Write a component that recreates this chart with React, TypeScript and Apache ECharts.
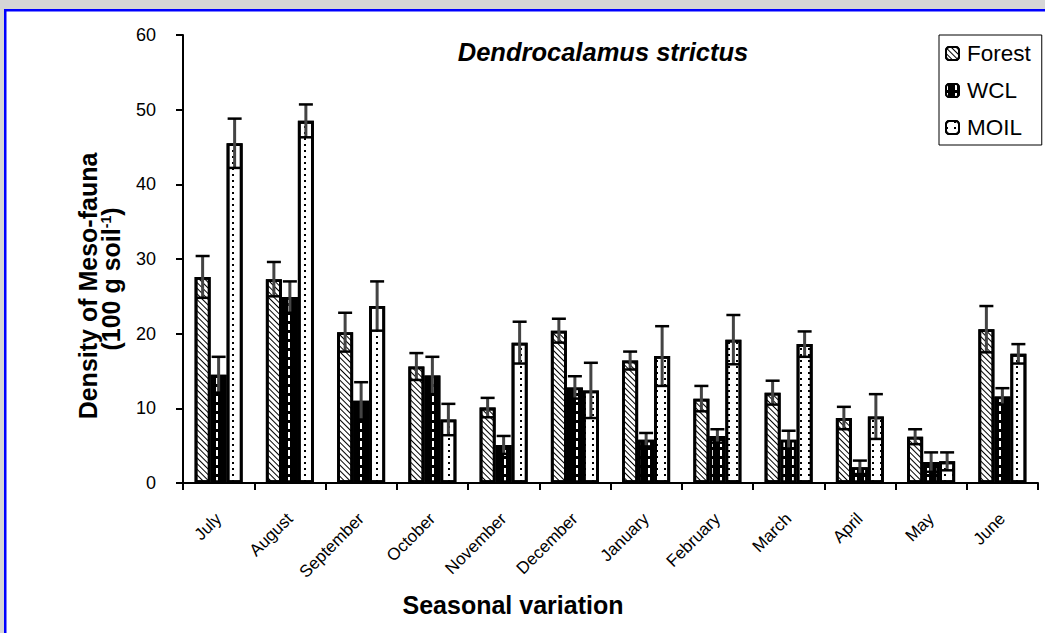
import React, { useEffect, useRef } from "react";
import * as echarts from "echarts";

const categories = ["July", "August", "September", "October", "November", "December", "January", "February", "March", "April", "May", "June"];
const seriesNames = ["Forest", "WCL", "MOIL"];
const forest = [27.6, 27.3, 20.2, 15.6, 10.1, 20.4, 16.4, 11.3, 12.1, 8.7, 6.2, 20.6];
const forestErr = [2.8, 2.3, 2.6, 1.8, 1.3, 1.6, 1.2, 1.7, 1.6, 1.5, 1.0, 3.1];
const wcl = [14.5, 24.9, 11.0, 14.4, 5.1, 12.8, 5.8, 6.3, 5.8, 2.1, 2.8, 11.6];
const wclErr = [2.4, 2.1, 2.5, 2.5, 1.2, 1.5, 0.9, 0.9, 1.2, 0.9, 1.3, 1.1];
const moil = [45.5, 48.5, 23.7, 8.5, 18.8, 12.4, 17.0, 19.2, 18.6, 8.9, 2.9, 17.3];
const moilErr = [3.3, 2.2, 3.3, 2.1, 2.8, 3.7, 4.0, 3.3, 1.7, 3.0, 1.2, 1.3];
const yTicks = { min: 0, max: 60, interval: 10 };

const FONT = "Arial, 'Liberation Sans', sans-serif";
const BAR_W = 16;

export default function App() {
  const ref = useRef<HTMLDivElement>(null);
  useEffect(() => {
    const chart = echarts.init(ref.current!, null, { renderer: "svg" });
    const means = [forest, wcl, moil];
    const errs = [forestErr, wclErr, moilErr];
    const styles = [
      {
        color: "#fff",
        borderColor: "#000",
        borderWidth: 2.8,
        decal: { symbol: "rect", symbolSize: 1, color: "#000", dashArrayX: [1, 0], dashArrayY: [1, 3], rotation: Math.PI / 4 },
      },
      {
        color: "#000",
        borderColor: "#000",
        borderWidth: 2.8,
        decal: { symbol: "rect", symbolSize: 1, color: "#fff", dashArrayX: [1.5, 7], dashArrayY: [6, 3], rotation: 0 },
      },
      {
        color: "#fff",
        borderColor: "#000",
        borderWidth: 2.8,
        decal: { symbol: "rect", symbolSize: 1, color: "#000", dashArrayX: [1.5, 6], dashArrayY: [2, 4], rotation: 0 },
      },
    ];
    const barSeries = seriesNames.map((name, i) => ({
      name,
      type: "bar",
      barWidth: BAR_W,
      barGap: "0%",
      z: 2,
      itemStyle: styles[i],
      data: means[i],
    }));
    const errSeries = seriesNames.map((name, i) => ({
      name: name + " error",
      type: "custom",
      z: 5,
      silent: true,
      encode: { x: 0, y: 1 },
      data: means[i].map((m, k) => [k, m, errs[i][k]]),
      renderItem: (params: any, api: any) => {
        const idx = api.value(0);
        const m = api.value(1);
        const e = api.value(2);
        const c = api.coord([idx, m]);
        const x = c[0] + (i - 1) * BAR_W;
        const yHi = api.coord([idx, m + e])[1];
        const yLo = api.coord([idx, m - e])[1];
        const half = BAR_W / 2 - 1;
        return {
          type: "group",
          children: [
            { type: "line", shape: { x1: x, y1: yLo, x2: x, y2: yHi }, style: { stroke: "#444", lineWidth: 3 } },
            { type: "line", shape: { x1: x - half, y1: yHi, x2: x + half, y2: yHi }, style: { stroke: "#000", lineWidth: 2.5 } },
            { type: "line", shape: { x1: x - half, y1: yLo, x2: x + half, y2: yLo }, style: { stroke: "#000", lineWidth: 2.5 } },
          ],
        };
      },
    }));

    chart.setOption({
      animation: false,
      backgroundColor: "#fff",
      grid: { left: 183, right: 7, top: 35, height: 448 },
      legend: {
        data: seriesNames,
        orient: "vertical",
        left: 939,
        top: 35,
        itemWidth: 13,
        itemHeight: 13,
        itemGap: 14,
        padding: [7, 11, 6, 6],
        borderColor: "#000",
        borderWidth: 1,
        textStyle: { fontFamily: FONT, fontSize: 22.5, color: "#000", padding: [0, 0, 0, 3] },
      },
      xAxis: {
        type: "category",
        data: categories,
        axisLine: { lineStyle: { color: "#000", width: 2 } },
        axisTick: { show: true, length: 7, lineStyle: { color: "#000", width: 2 } },
        axisLabel: { interval: 0, rotate: 45, margin: 33, fontFamily: FONT, fontSize: 17, color: "#000" },
        splitLine: { show: false },
      },
      yAxis: {
        type: "value",
        min: yTicks.min,
        max: yTicks.max,
        interval: yTicks.interval,
        axisLine: { show: true, lineStyle: { color: "#000", width: 2 } },
        axisTick: { show: true, length: 7, lineStyle: { color: "#000", width: 2 } },
        axisLabel: { margin: 27, fontFamily: FONT, fontSize: 18, color: "#000" },
        splitLine: { show: false },
      },
      graphic: [
        { type: "rect", z: -10, shape: { x: 0, y: 0, width: 1045, height: 9 }, style: { fill: "#d6d6d6" } },
        { type: "rect", z: -10, shape: { x: 0, y: 0, width: 4, height: 633 }, style: { fill: "#d6d6d6" } },
        { type: "rect", z: -9, shape: { x: 4, y: 9, width: 1041, height: 2.5 }, style: { fill: "#0000ff" } },
        { type: "rect", z: -9, shape: { x: 4, y: 9, width: 2.5, height: 624 }, style: { fill: "#0000ff" } },
        {
          type: "text",
          x: 603,
          y: 52,
          style: { text: "Dendrocalamus strictus", fontFamily: FONT, fontSize: 25.5, fontWeight: "bold", fontStyle: "italic", fill: "#000", textAlign: "center", textVerticalAlign: "middle" },
        },
        {
          type: "text",
          x: 513,
          y: 605,
          style: { text: "Seasonal variation", fontFamily: FONT, fontSize: 25, fontWeight: "bold", fill: "#000", textAlign: "center", textVerticalAlign: "middle" },
        },
        {
          type: "text",
          x: 88,
          y: 286,
          rotation: Math.PI / 2,
          style: { text: "Density of Meso-fauna", fontFamily: FONT, fontSize: 25, fontWeight: "bold", fill: "#000", textAlign: "center", textVerticalAlign: "middle" },
        },
        {
          type: "text",
          x: 111,
          y: 279,
          rotation: Math.PI / 2,
          style: {
            text: "(100 g soil{sup|-1})",
            fontFamily: FONT,
            fontSize: 25,
            fontWeight: "bold",
            fill: "#000",
            textAlign: "center",
            textVerticalAlign: "middle",
            rich: { sup: { fontFamily: FONT, fontSize: 14, fontWeight: "bold", fill: "#000", verticalAlign: "top", padding: [0, 0, 10, 0] } },
          },
        },
      ],
      series: [...barSeries, ...errSeries],
    });
    return () => chart.dispose();
  }, []);
  return <div ref={ref} style={{ position: "absolute", left: 0, top: 0, width: 1045, height: 633 }} />;
}
